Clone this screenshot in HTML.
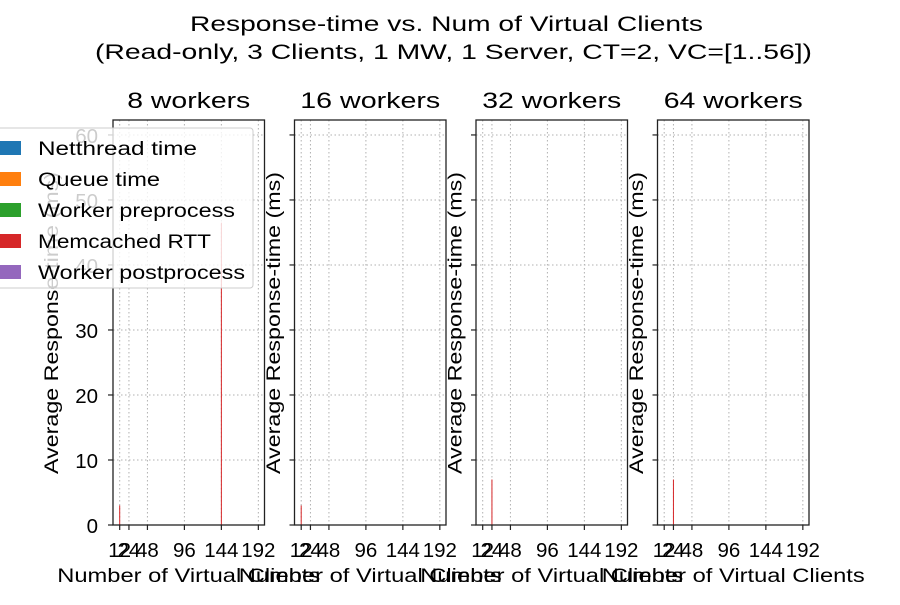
<!DOCTYPE html>
<html><head><meta charset="utf-8"><style>
body{margin:0;background:#fff;}
svg{font-family:"Liberation Sans","DejaVu Sans",sans-serif;}
</style></head><body>
<svg id="chart" width="900" height="600" viewBox="0 0 900 600">
<text x="190" y="31" font-size="21" textLength="513" lengthAdjust="spacingAndGlyphs">Response-time vs. Num of Virtual Clients</text>
<text x="95" y="59" font-size="21" textLength="717" lengthAdjust="spacingAndGlyphs">(Read-only, 3 Clients, 1 MW, 1 Server, CT=2, VC=[1..56])</text>
<g id="panels"></g>
<g id="legend"></g>
</svg>
<script>
const panelTitles = ["8 workers","16 workers","32 workers","64 workers"];
const xTicks = [12,24,48,96,144,192];
const yTicks = [0,10,20,30,40,50,60];
const barClients = [[12,144],[12],[24],[24]];
const barValues = [[3,46.5],[3],[7],[7]];
const legendLabels = ["Netthread time","Queue time","Worker preprocess","Memcached RTT","Worker postprocess"];
const legendColors = ["#1f77b4","#ff7f0e","#2ca02c","#d62728","#9467bd"];

const NS="http://www.w3.org/2000/svg";
function mk(tag,attrs,parent){const e=document.createElementNS(NS,tag);for(const k in attrs)e.setAttribute(k,attrs[k]);parent.appendChild(e);return e;}
const lefts=[113,294.5,476,657.5], W=151.5, axTop=120, axBottom=525;
const titleLens=[123,140,139,139];
const legendLens=[159,122,197,173,207];
const xmin=3.3,xmax=200,ymin=0,ymax=62.3;
const panels=document.getElementById('panels');
lefts.forEach((L,p)=>{
  const g=mk('g',{},panels);
  
  
  const X=v=>L+(v-xmin)/(xmax-xmin)*W;
  const Y=v=>axBottom-(v-ymin)/(ymax-ymin)*(axBottom-axTop);
  xTicks.forEach(t=>{
    const l=mk('line',{x1:X(t),x2:X(t),y1:axTop,y2:axBottom,stroke:'#b0b0b0','stroke-dasharray':'1.5,2.5','stroke-width':1},g);
    
    
    mk('line',{x1:X(t),x2:X(t),y1:axBottom,y2:axBottom+5,stroke:'#222','stroke-width':1.2},g);
    const tx=mk('text',{x:X(t),y:557,'font-size':20.5,'text-anchor':'middle'},g);
    tx.textContent=t;
    
    
  });
  yTicks.forEach(t=>{
    const l=mk('line',{x1:L,x2:L+W,y1:Y(t),y2:Y(t),stroke:'#b0b0b0','stroke-dasharray':'1.5,2.5','stroke-width':1},g);
    
    
    mk('line',{x1:L-5,x2:L,y1:Y(t),y2:Y(t),stroke:'#222','stroke-width':1.2},g);
    if(p===0){
      const tx=mk('text',{x:L-15,y:Y(t)+8,'font-size':20.5,'text-anchor':'end'},g);
      tx.textContent=t;
      
      
    }
  });
  barClients[p].forEach((c,i)=>{
    const b=mk('rect',{x:X(c)-0.5,y:Y(barValues[p][i]),width:1,height:Y(0)-Y(barValues[p][i]),fill:'#d62728'},g);
    
    
  });
  const fr=mk('rect',{x:L,y:axTop,width:W,height:axBottom-axTop,fill:'none',stroke:'#222','stroke-width':1.3},g);
  
  
  const tt=mk('text',{x:L+W/2,y:108,'font-size':22,'text-anchor':'middle',textLength:titleLens[p],lengthAdjust:'spacingAndGlyphs'},g);
  tt.textContent=panelTitles[p];
  
  
  const xl=mk('text',{x:L+W/2,y:582,'font-size':19,'text-anchor':'middle',textLength:263,lengthAdjust:'spacingAndGlyphs'},g);
  xl.textContent='Number of Virtual Clients';
  
  
  const yx=p===0?58:L-14.5;
  const yl=mk('text',{x:yx,y:323,'font-size':19,'text-anchor':'middle',textLength:302,lengthAdjust:'spacingAndGlyphs',transform:`rotate(-90 ${yx} 323)`},g);
  yl.textContent='Average Response-time (ms)';
  
  
});
const lg=document.getElementById('legend');
mk('rect',{x:-10,y:128,width:263,height:160,rx:3,fill:'#fff','fill-opacity':0.8,stroke:'#ccc'},lg);
legendLabels.forEach((s,i)=>{
  const y=148+i*31;
  const r=mk('rect',{x:0,y:y-7,width:21,height:14,fill:legendColors[i]},lg);
  
  
  const t=mk('text',{x:38,y:y+7,'font-size':19,textLength:legendLens[i],lengthAdjust:'spacingAndGlyphs'},lg);
  t.textContent=s;
  
  
});
</script>
</body></html>
